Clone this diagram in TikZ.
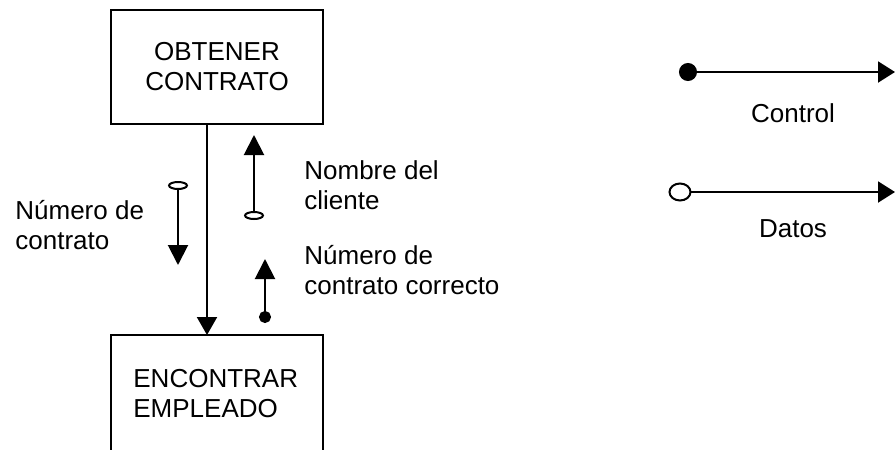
\documentclass[tikz,border=0pt]{standalone}
\usepackage{fontspec}
\setmainfont{Liberation Sans}
\usetikzlibrary{arrows.meta,positioning}

\newcommand{\texto}{\fontsize{13pt}{15pt}\selectfont}

\tikzset{
  caja/.style={draw, line width=0.8pt, align=center},
  marco/.style={line width=0.8pt},
  rotulo/.style={anchor=base west, align=left},
  flujo/.style={line width=1pt, -{Triangle[width=10pt,length=9pt]}},
  dato/.style={line width=1pt, {Ellipse[open,length=4.5pt,width=10pt]}-{Triangle[width=10pt,length=10pt]}},
  control/.style={line width=1pt, {Circle[length=6pt]}-{Triangle[width=10pt,length=10pt]}},
  datoley/.style={line width=1pt, {Ellipse[open,length=11.5pt,width=9.5pt]}-{Triangle[width=10.5pt,length=8.5pt]}},
  controlley/.style={line width=1pt, {Circle[length=9pt]}-{Triangle[width=10.5pt,length=8.5pt]}}
}

\begin{document}
\begin{tikzpicture}[x=0.5pt, y=-0.5pt, every node/.style={inner sep=0pt, font=\texto}]
  \useasboundingbox (0,0) rectangle (895,450);

  \node (obtener) [caja, minimum width=106pt, minimum height=57pt] at (217,67) {OBTENER\\CONTRATO};

  % second module, cut off at the bottom
  \coordinate (encNO) at (111,335);
  \coordinate (encNE) at (323,335);
  \coordinate (encSO) at (111,450);
  \coordinate (encSE) at (323,450);
  \draw[marco] (encSO) -- (encNO) -- (encNE) -- (encSE);
  \node (encontrar) [rotulo] at (133,417) {ENCONTRAR\\EMPLEADO};

  \coordinate (tronco) at (207,0);
  \draw[flujo] (obtener.south -| tronco) -- (encNO -| tronco);

  % couples
  \coordinate (numA) at (178,181);
  \coordinate (numB) at (178,265);
  \coordinate (nomA) at (254,220);
  \coordinate (nomB) at (254,135);
  \coordinate (corA) at (265,323);
  \coordinate (corB) at (265,259);
  \draw[dato] (numA) -- (numB);
  \draw[dato] (nomA) -- (nomB);
  \draw[control] (corA) -- (corB);

  \node (numero) [rotulo] at (15,249) {Número de\\contrato};
  \node (nombre) [rotulo] at (304,209) {Nombre del\\cliente};
  \node (correcto) [rotulo] at (304,294) {Número de\\contrato correcto};

  % legend
  \coordinate (ctlA) at (679,72);
  \coordinate (ctlB) at (895,72);
  \coordinate (datA) at (668.5,192);
  \coordinate (datB) at (895,192);
  \draw[controlley] (ctlA) -- (ctlB);
  \draw[datoley] (datA) -- (datB);
  \node (control) [anchor=base] at (793,122) {Control};
  \node (datos) [anchor=base] at (793,237) {Datos};
\end{tikzpicture}
\end{document}
